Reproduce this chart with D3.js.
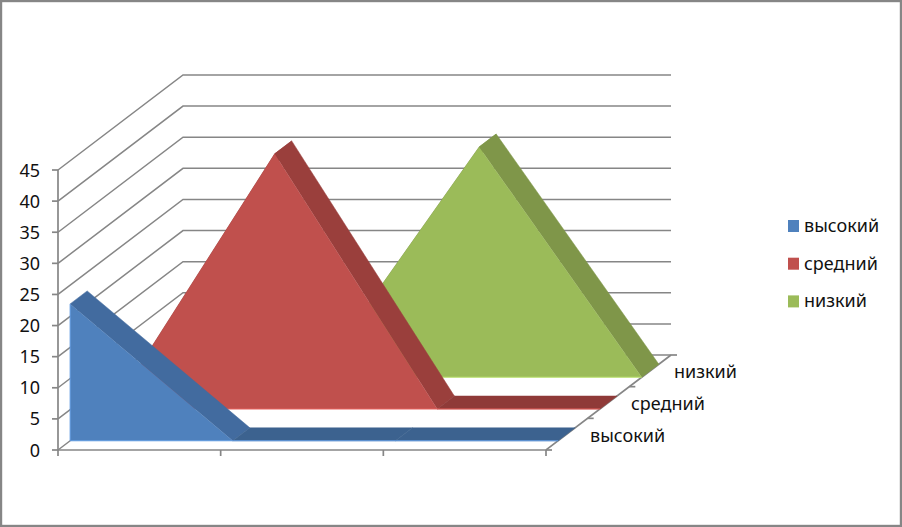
<!DOCTYPE html>
<html><head><meta charset="utf-8">
<script src="https://cdn.jsdelivr.net/npm/d3@7"></script>
<style>html,body{margin:0;padding:0;background:#fff}svg{display:block}text{font-family:"Noto Sans",sans-serif;fill:#111}</style>
</head><body><svg id="c" width="902" height="527"></svg>
<script>
const seriesNames = ["высокий","средний","низкий"];
const points = [0,1,2,3];
const highValues = [22,0,0,0];
const midValues = [0,41,0,0];
const lowValues = [0,0,37,0];
const yTicks = [0,5,10,15,20,25,30,35,40,45];
const faceColors = ["#4f81bd","#c0504d","#9bbb59"];
const slopeColors = ["#426b9f","#9a3f3c","#7f9649"];
const flatColors = ["#3c628f","#8f3a38","#768b44"];
const allValues = [highValues,midValues,lowValues];

const svg = d3.select("#c");
const x = d3.scalePoint().domain(points).range([58,546]);
const y = d3.scaleLinear().domain([0,45]).range([450,170]);
const depth = d3.scaleBand().domain(seriesNames).range([0,1]).paddingInner(0.592).paddingOuter(0.29);
const DX = 125, DY = 95;
const px = (i,t) => x(i) + t*DX;
const py = (v,t) => y(v) - t*DY;
const line = pts => "M" + pts.map(p=>p.join(",")).join("L") + "Z";
const grid = "#868686";

svg.append("rect").attr("x",1).attr("y",1).attr("width",900).attr("height",525)
  .attr("fill","#fff").attr("stroke",grid).attr("stroke-width",2.4);

// walls
yTicks.forEach(v=>{
  svg.append("path").attr("fill","none").attr("stroke",grid).attr("stroke-width",1.5)
    .attr("d",`M${px(0,0)},${py(v,0)}L${px(0,1)},${py(v,1)}L${px(3,1)},${py(v,1)}`);
});
// floor + axes
svg.append("path").attr("fill","none").attr("stroke",grid).attr("stroke-width",1.7)
  .attr("d",`M${px(3,1)},${py(0,1)}L${px(3,0)},${py(0,0)}L${px(0,0)},${py(0,0)}L${px(0,0)},${py(45,0)}`);
yTicks.forEach(v=>{
  svg.append("line").attr("x1",px(0,0)-6).attr("x2",px(0,0)).attr("y1",y(v)).attr("y2",y(v))
    .attr("stroke",grid).attr("stroke-width",1.7);
  svg.append("text").attr("x",40).attr("y",y(v)+6.5).attr("text-anchor","end").attr("font-size",18).text(v);
});
points.forEach(i=>{
  svg.append("line").attr("x1",x(i)).attr("x2",x(i)).attr("y1",450).attr("y2",456)
    .attr("stroke",grid).attr("stroke-width",1.7);
});
[0,1,2,3].forEach(k=>{
  const t=k/3;
  svg.append("line").attr("x1",px(3,t)).attr("x2",px(3,t)+6).attr("y1",py(0,t)).attr("y2",py(0,t))
    .attr("stroke",grid).attr("stroke-width",1.7);
});

// series, back to front
d3.range(2,-1,-1).forEach(s=>{
  const name = seriesNames[s], vals = allValues[s];
  const t0 = depth(name), t1 = t0 + depth.bandwidth();
  const g = svg.append("g");
  d3.pairs(points).forEach(([a,b])=>{
    const q = [[px(a,t0),py(vals[a],t0)],[px(a,t1),py(vals[a],t1)],[px(b,t1),py(vals[b],t1)],[px(b,t0),py(vals[b],t0)]];
    const c = vals[a]===vals[b] ? flatColors[s] : slopeColors[s];
    g.append("path").attr("d",line(q)).attr("fill",c).attr("stroke",c).attr("stroke-width",0.5);
  });
  const poly = [[px(0,t0),py(0,t0)]].concat(points.map(i=>[px(i,t0),py(vals[i],t0)]),[[px(3,t0),py(0,t0)]]);
  g.append("path").attr("d",line(poly)).attr("fill",faceColors[s]);
  g.append("path").attr("fill","none").attr("stroke",d3.color(faceColors[s]).brighter(0.5)).attr("stroke-width",1)
    .attr("d",`M${px(0,t0)},${py(vals[0],t0)}L${px(0,t0)},${py(0,t0)}L${px(3,t0)},${py(0,t0)}`);
  svg.append("text").attr("x",[590,631,674][s]).attr("y",py(0,t0)+1).attr("font-size",18).text(name);
});

// legend
seriesNames.forEach((n,i)=>{
  const yy = 220 + i*37.7;
  svg.append("rect").attr("x",788).attr("y",yy).attr("width",11).attr("height",12).attr("fill",faceColors[i]);
  svg.append("text").attr("x",804).attr("y",yy+12).attr("font-size",18).text(n);
});
</script></body></html>
